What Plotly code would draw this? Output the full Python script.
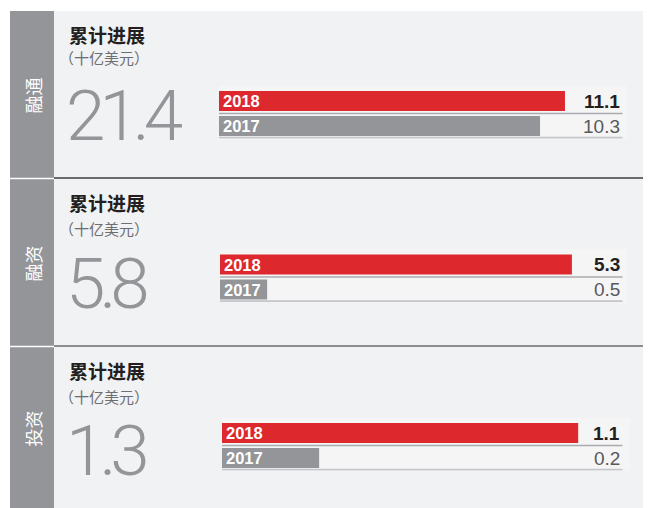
import plotly.graph_objects as go

# ---------------- data ----------------
sector_labels = ["融通", "融资", "投资"]
panel_titles = ["累计进展", "累计进展", "累计进展"]
unit_labels = ["（十亿美元）", "（十亿美元）", "（十亿美元）"]
totals = ["21.4", "5.8", "1.3"]
years = ["2017", "2018"]
values_2018 = [11.1, 5.3, 1.1]
values_2017 = [10.3, 0.5, 0.2]
# bar extents as drawn in the picture (bars are not drawn to a common scale)
bar_len_2018 = [11.1, 5.3, 1.1]
bar_len_2017 = [10.3, 0.71, 0.30]

# ---------------- geometry (page pixels) ----------------
OFF = 8                     # page body margin
W, H = 651 - OFF, 508 - OFF
def px(x): return (x - OFF) / W
def py(y): return 1 - (y - OFF) / H

RED = "#dd282e"
GREY = "#939598"
PANEL_BG = "#f1f2f4"

geom = [
    dict(top=11, bottom=178, x0=219, x1=627, c=101, title=34, sub=58, big=112, axmax=13.09, sep="#3c3c3e"),
    dict(top=179, bottom=346, x0=220, x1=627, c=264.5, title=202, sub=228.5, big=279, axmax=6.13, sep="#6a6b6d"),
    dict(top=347, bottom=508, x0=222, x1=630, c=433, title=370, sub=396.5, big=446.5, axmax=1.26, sep=None),
]

fig = go.Figure()
shapes = []
annotations = []

# backgrounds
shapes.append(dict(type="rect", xref="paper", yref="paper", x0=px(54), x1=1, y0=0, y1=py(11),
                   fillcolor=PANEL_BG, line_width=0, layer="below"))
shapes.append(dict(type="rect", xref="paper", yref="paper", x0=px(10), x1=px(54), y0=0, y1=py(11),
                   fillcolor=GREY, line_width=0, layer="below"))

for i, g in enumerate(geom):
    n = "" if i == 0 else str(i + 1)
    xa, ya = "x" + n, "y" + n
    # bars
    fig.add_trace(go.Bar(
        orientation="h",
        x=[bar_len_2017[i], bar_len_2018[i]],
        y=[0, 1],
        width=0.8,
        marker=dict(color=[GREY, RED], line_width=0),
        xaxis=xa, yaxis=ya,
        hoverinfo="skip", showlegend=False,
    ))
    top_px = g["c"] - 12.5
    bot_px = g["c"] + 37.5
    fig.update_layout(**{
        "xaxis" + n: dict(domain=[px(g["x0"]), px(g["x1"])], range=[0, g["axmax"]],
                          visible=False, fixedrange=True, anchor=ya),
        "yaxis" + n: dict(domain=[py(bot_px), py(top_px)], range=[-0.5, 1.5],
                          visible=False, fixedrange=True, anchor=xa),
    })
    # track background
    shapes.append(dict(type="rect", xref="paper", yref="paper",
                       x0=px(g["x0"]), x1=px(g["x1"]), y0=py(g["c"] + 38), y1=py(g["c"] - 15),
                       fillcolor="#f5f5f6", line_width=0, layer="below"))
    # row rules
    lx1 = (622.5 - g["x0"]) / (g["x1"] - g["x0"])
    shapes.append(dict(type="line", xref=xa + " domain", yref=ya, x0=0, x1=lx1, y0=0.5, y1=0.5,
                       line=dict(color="#a9abae", width=1.6)))
    shapes.append(dict(type="line", xref=xa + " domain", yref=ya, x0=0, x1=lx1, y0=-0.47, y1=-0.47,
                       line=dict(color="#c4c5c8", width=1.8)))
    # panel separators
    if g["sep"]:
        shapes.append(dict(type="line", xref="paper", yref="paper", x0=px(54), x1=1,
                           y0=py(g["bottom"]), y1=py(g["bottom"]),
                           line=dict(color=g["sep"], width=1.4)))
        shapes.append(dict(type="line", xref="paper", yref="paper", x0=px(10), x1=px(54),
                           y0=py(g["bottom"] + 0.5), y1=py(g["bottom"] + 0.5),
                           line=dict(color="white", width=1.4)))
    # year labels in bars
    for yv, yr in [(1, years[1]), (0, years[0])]:
        annotations.append(dict(text="<b>" + yr + "</b>", xref=xa + " domain", yref=ya, x=0, y=yv,
                                xanchor="left", yanchor="middle", xshift=2, showarrow=False,
                                font=dict(family="Liberation Sans, Arial", size=16.5, color="white")))
    # value labels
    annotations.append(dict(text="<b>" + f"{values_2018[i]:.1f}" + "</b>", xref="paper", yref=ya,
                            x=px(622), y=1, xanchor="right", yanchor="middle", showarrow=False,
                            font=dict(family="Liberation Sans, Arial", size=19, color="#231f20")))
    annotations.append(dict(text=f"{values_2017[i]:.1f}", xref="paper", yref=ya,
                            x=px(622), y=0, xanchor="right", yanchor="middle", showarrow=False,
                            font=dict(family="Liberation Sans, Arial", size=19, color="#58595b")))
    # titles
    annotations.append(dict(text="<b>" + panel_titles[i] + "</b>", xref="paper", yref="paper",
                            x=px(67), y=py(g["title"]), xanchor="left", yanchor="middle", showarrow=False,
                            font=dict(family="Noto Sans CJK SC", size=19, color="#231f20")))
    annotations.append(dict(text=unit_labels[i], xref="paper", yref="paper",
                            x=px(57), y=py(g["sub"]), xanchor="left", yanchor="middle", showarrow=False,
                            font=dict(family="Noto Sans CJK SC", size=15, color="#6d6e71")))
    annotations.append(dict(text='<span style="letter-spacing:-6px">' + totals[i] + "</span>",
                            xref="paper", yref="paper",
                            x=px(64), y=py(g["big"] + 4), xanchor="left", yanchor="middle", showarrow=False,
                            font=dict(family="Roboto", size=71, color=GREY, weight=300)))
    # sector label in strip
    annotations.append(dict(text=sector_labels[i], xref="paper", yref="paper",
                            x=px(32), y=py((g["top"] + g["bottom"]) / 2 + 1), textangle=-90,
                            xanchor="center", yanchor="middle", showarrow=False,
                            font=dict(family="Noto Sans CJK SC", size=18, color="white")))

fig.update_layout(
    width=W, height=H,
    margin=dict(l=0, r=0, t=0, b=0),
    paper_bgcolor="white",
    plot_bgcolor="rgba(0,0,0,0)",
    barmode="overlay",
    shapes=shapes,
    annotations=annotations,
    showlegend=False,
)

fig.write_html("out.html")
